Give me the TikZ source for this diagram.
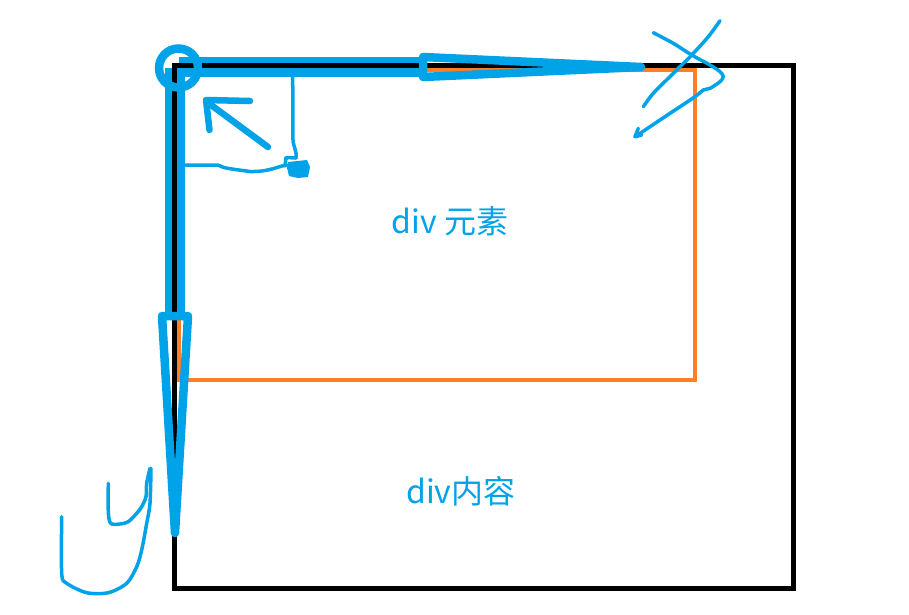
\documentclass[tikz,border=0pt]{standalone}
\usepackage{fontspec}
\newfontfamily\cjk{Noto Sans CJK SC}
\definecolor{pblue}{HTML}{00A2E8}
\definecolor{porange}{HTML}{FF7F27}
\begin{document}
\begin{tikzpicture}[x=1pt,y=-1pt,
  band/.style={pblue, line width=20pt},
  outl/.style={pblue, line width=8.5pt, line join=round},
  pen/.style={pblue, line width=3.5pt, line cap=round, line join=round},
  heavypen/.style={pblue, line width=6.5pt, line cap=round, line join=round},
  lbl/.style={text=pblue, font=\cjk\fontsize{32}{38}\selectfont, inner sep=0pt}]
\useasboundingbox (0,0) rectangle (909,614);
\fill[white] (0,0) rectangle (909,614);
% orange content box
\draw[porange, line width=4pt] (179,70) rectangle (695,379.5);
% thick blue bands
\draw[band] (178.5,67) -- (423,67);
\draw[band] (175,68) -- (175,316);
% black element box
\draw[black, line width=5pt] (174.5,65.5) rectangle (793,588.5);
% arrow outlines
\draw[outl] (423,57) -- (641,67) -- (423,77) -- cycle;
\draw[outl] (162,316) -- (175,533) -- (188,316) -- cycle;
% origin circle
\draw[pblue, line width=8.5pt] (178.5,68) circle[radius=19.5];
% small up-left arrow
\draw[heavypen] (268,147) -- (207,102);
\draw[heavypen] (250,101) -- (206,100) -- (209.5,130);
% thin bracket lines
\draw[pen] (292.7,76) -- (293,141) .. controls (294,148) and (297,152) .. (296,158);
\draw[pen] (185,165) -- (218,165) .. controls (224,168) .. (250,171.5) .. controls (270,172) and (278,166) .. (287,165);
\fill[pblue] (288,162) -- (307,160) -- (310,167) -- (308,177) -- (298,178) -- (289,176) -- (287,168) -- cycle;
\draw[pen] (296,158) -- (286,157.5) -- (285,166);
% x scribble
\draw[pen] plot[smooth] coordinates {(653.3,32.7) (673.3,43.3) (691.7,55) (710,65) (720,71.7) (723.3,76.7) (720,81.7) (710,88.3) (703.3,90) (695,96.7) (670,113.3) (650,126.7) (635,136.7)};
\draw[pen] (638.3,128.3) -- (635,136.7) -- (641.7,135);
\draw[pen] plot[smooth] coordinates {(720,20.7) (708.3,36.7) (691.7,55) (673.3,73.3) (653.3,93.3) (643.3,106.7)};
% y scribble
\draw[pen] plot[smooth] coordinates {(108.3,483.3) (108.3,511.7) (110.7,523.3) (120,524) (128.3,521.7) (136.7,513.3) (141.7,506.7) (146,496.7) (146.7,483.3) (150,468.3)};
\draw[pen] plot[smooth] coordinates {(61.7,516.7) (61.7,573.3) (66.7,583.3) (86.7,592.7) (108.3,592.7) (126.7,583.3) (136.7,566.7) (141.7,550) (146.7,523.3) (150,503.3) (151,468.3)};
% labels
\node[lbl] (t1) at (450,221) {div 元素};
\node[lbl] (t2) at (461,491) {div内容};
\end{tikzpicture}
\end{document}
